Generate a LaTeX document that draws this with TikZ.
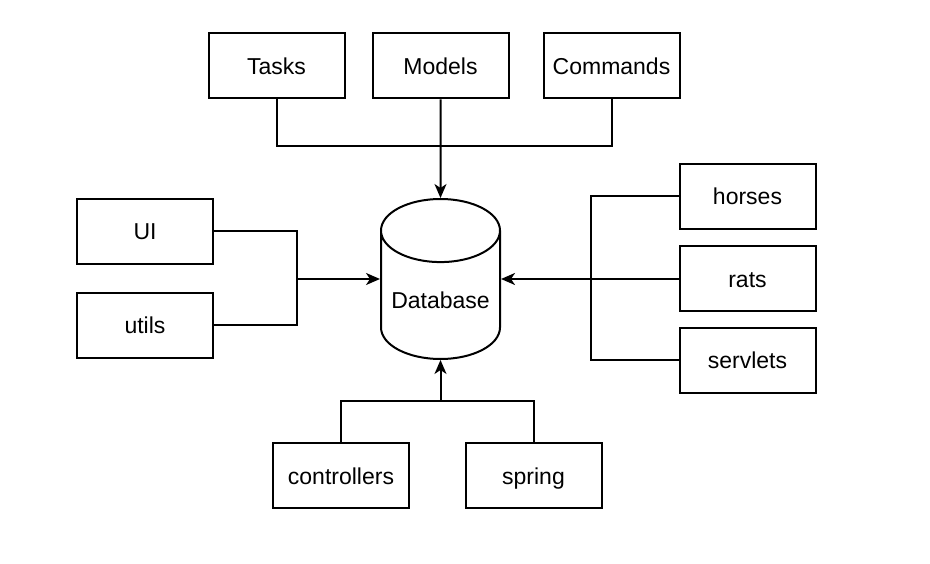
\documentclass[tikz,border=0pt]{standalone}
\usepackage{fontspec}
\setmainfont{Liberation Sans}
\usetikzlibrary{shapes.geometric,arrows.meta}

\tikzset{
  box/.style={draw,line width=2pt,minimum width=136pt,minimum height=65pt,
    text height=18.5pt,text depth=1.5pt,font=\fontsize{23}{27}\selectfont},
  link/.style={line width=2pt},
}

\begin{document}
\begin{tikzpicture}[x=1pt,y=-1pt,>={Stealth[length=14pt,width=12pt,inset=4pt]}]
\useasboundingbox (0,0) rectangle (930,564);
% top row
\node[box] (tasks) at (276.5,66) {Tasks};
\node[box] (models) at (440.5,66) {Models};
\node[box] (commands) at (611.5,66) {Commands};
% left
\node[box] (ui) at (145,231.5) {UI};
\node[box] (utils) at (145,325.5) {utils};
% right
\node[box] (horses) at (747.5,196.5) {horses};
\node[box] (rats) at (747.5,279) {rats};
\node[box] (servlets) at (747.5,360.5) {servlets};
% bottom
\node[box] (controllers) at (341,475.5) {controllers};
\node[box] (spring) at (533.5,475.5) {spring};
% database
\node[cylinder,shape border rotate=90,draw,line width=2pt,aspect=0.6,
  minimum width=119pt,minimum height=160pt,anchor=shape center,
  font=\fontsize{23}{27}\selectfont]
  (db) at (440.5,279) {Database};

\coordinate (topjoin) at (440.5,146);
\coordinate (leftjoin) at (297,279);
\coordinate (rightjoin) at (590.5,279);
\coordinate (botjoin) at (440.5,401);

\draw[link] (tasks.south) |- (topjoin) -| (commands.south);
\draw[link,->] (models.south) -- (db.north);

\draw[link] (ui.east) -| (leftjoin) |- (utils.east);
\draw[link,->] (leftjoin) -- (leftjoin -| db.west);

\draw[link] (horses.west) -| (rightjoin) |- (servlets.west);
\draw[link,->] (rats.west) -- (rats.west -| db.east);

\draw[link] (controllers.north) |- (botjoin) -| (spring.north);
\draw[link,->] (botjoin) -- (db.south);
\end{tikzpicture}
\end{document}
